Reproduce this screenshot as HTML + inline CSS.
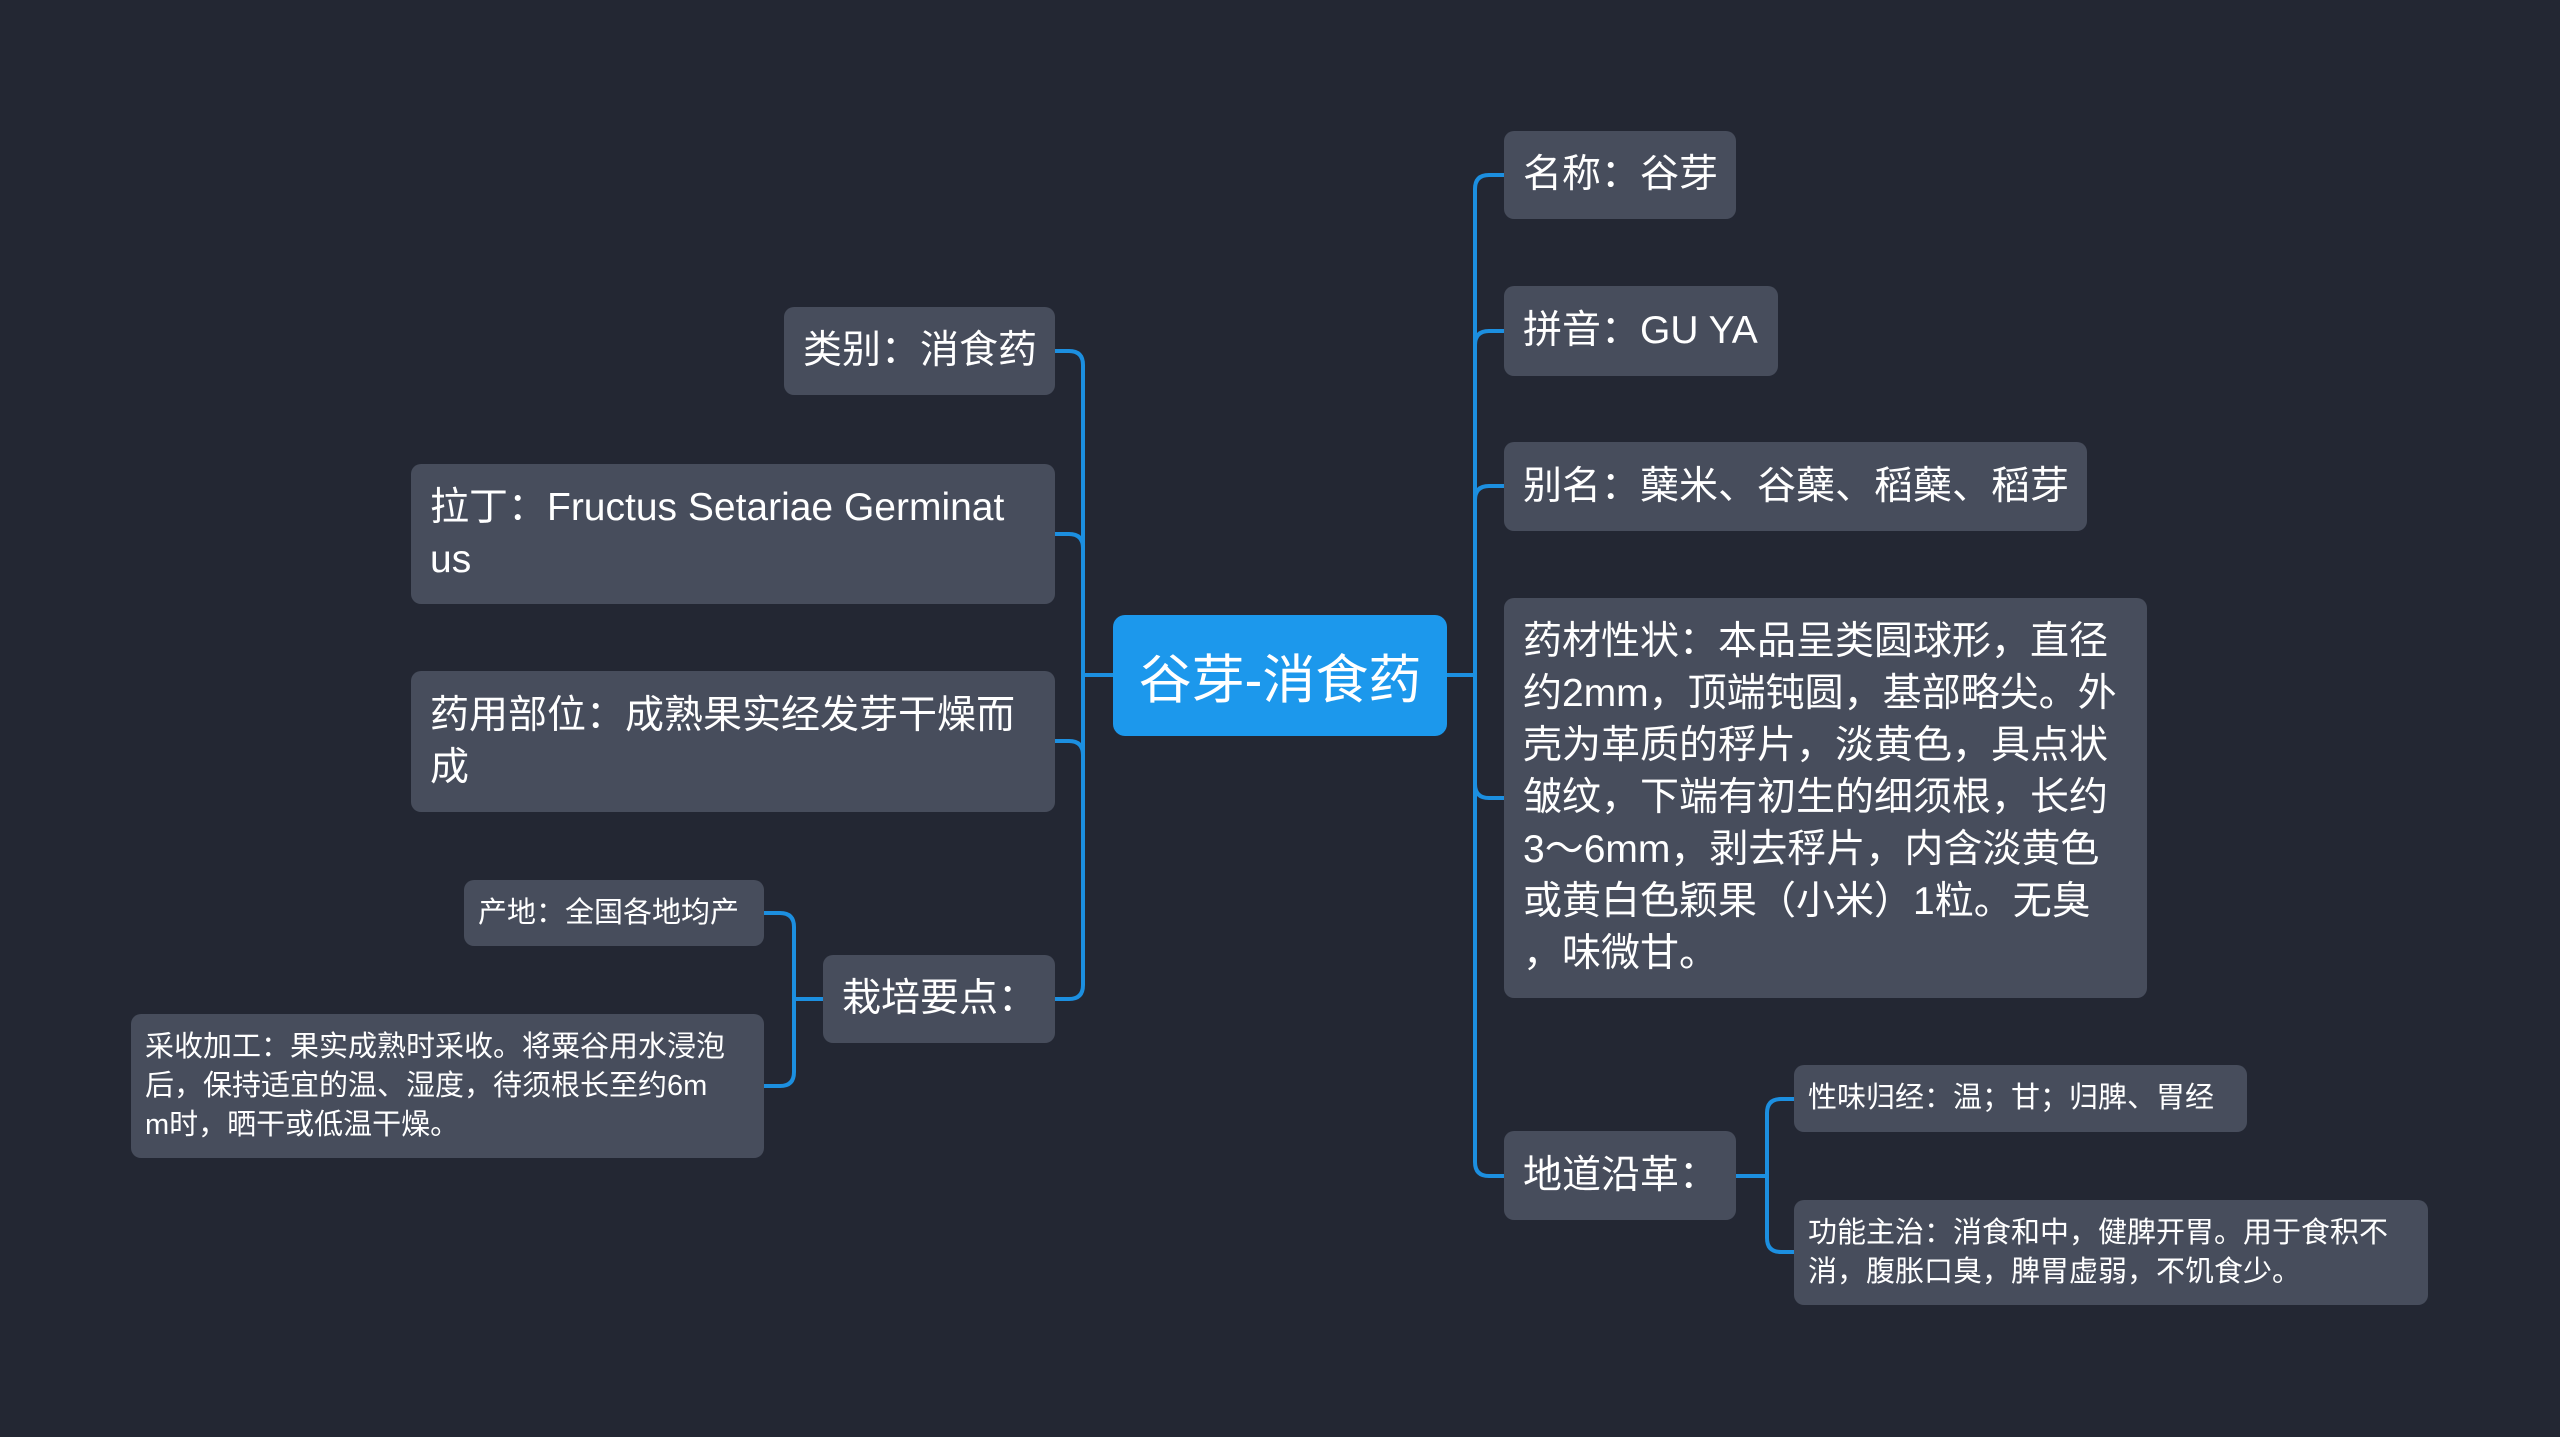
<!DOCTYPE html>
<html><head><meta charset="utf-8"><style>
html,body{margin:0;padding:0;}
body{width:2560px;height:1437px;background:#232733;position:relative;overflow:hidden;font-family:"Liberation Sans","Noto Sans CJK SC",sans-serif;color:#fff;}
.n{position:absolute;background:#474d5c;border-radius:10px;box-sizing:border-box;display:flex;align-items:center;white-space:nowrap;font-size:39px;line-height:52px;padding-left:19px;}
.s{font-size:29px;line-height:39px;padding-left:14px;}
.c{position:absolute;left:1113px;top:615px;width:334px;height:121px;background:#1c98ec;border-radius:12px;display:flex;align-items:center;justify-content:center;font-size:53px;color:#fff;}
svg{position:absolute;left:0;top:0;}
</style></head><body>
<svg width="2560" height="1437" fill="none" stroke="#1c8fe0" stroke-width="4">
<!-- left main -->
<path d="M1113 675 H1083"/>
<path d="M1055 351 H1069 Q1083 351 1083 365 V985 Q1083 999 1069 999 H1055"/>
<path d="M1055 534 H1069 Q1083 534 1083 548"/>
<path d="M1055 741 H1069 Q1083 741 1083 755"/>
<!-- left sub -->
<path d="M823 999 H794"/>
<path d="M764 913 H780 Q794 913 794 927 V1072 Q794 1086 780 1086 H764"/>
<!-- right main -->
<path d="M1447 675 H1475"/>
<path d="M1504 175 H1489 Q1475 175 1475 189 V1162 Q1475 1176 1489 1176 H1504"/>
<path d="M1504 331 H1489 Q1475 331 1475 345"/>
<path d="M1504 486 H1489 Q1475 486 1475 500"/>
<path d="M1504 798 H1489 Q1475 798 1475 784"/>
<!-- right sub -->
<path d="M1736 1176 H1767"/>
<path d="M1794 1099 H1781 Q1767 1099 1767 1113 V1238 Q1767 1252 1781 1252 H1794"/>
</svg>
<div class="c">谷芽-消食药</div>
<div class="n" style="left:1504px;top:131px;width:232px;height:88px;">名称：谷芽</div>
<div class="n" style="left:1504px;top:286px;width:274px;height:90px;">拼音：GU YA</div>
<div class="n" style="left:1504px;top:442px;width:583px;height:89px;">别名：蘖米、谷蘖、稻蘖、稻芽</div>
<div class="n" style="left:1504px;top:598px;width:643px;height:400px;">药材性状：本品呈类圆球形，直径<br>约2mm，顶端钝圆，基部略尖。外<br>壳为革质的稃片，淡黄色，具点状<br>皱纹，下端有初生的细须根，长约<br>3～6mm，剥去稃片，内含淡黄色<br>或黄白色颖果（小米）1粒。无臭<br>，味微甘。</div>
<div class="n" style="left:1504px;top:1131px;width:232px;height:89px;">地道沿革：</div>
<div class="n s" style="left:1794px;top:1065px;width:453px;height:67px;">性味归经：温；甘；归脾、胃经</div>
<div class="n s" style="left:1794px;top:1200px;width:634px;height:105px;">功能主治：消食和中，健脾开胃。用于食积不<br>消，腹胀口臭，脾胃虚弱，不饥食少。</div>
<div class="n" style="left:784px;top:307px;width:271px;height:88px;">类别：消食药</div>
<div class="n" style="left:411px;top:464px;width:644px;height:140px;">拉丁：Fructus Setariae Germinat<br>us</div>
<div class="n" style="left:411px;top:671px;width:644px;height:141px;">药用部位：成熟果实经发芽干燥而<br>成</div>
<div class="n" style="left:823px;top:955px;width:232px;height:88px;">栽培要点：</div>
<div class="n s" style="left:464px;top:880px;width:300px;height:66px;">产地：全国各地均产</div>
<div class="n s" style="left:131px;top:1014px;width:633px;height:144px;">采收加工：果实成熟时采收。将粟谷用水浸泡<br>后，保持适宜的温、湿度，待须根长至约6m<br>m时，晒干或低温干燥。</div>
</body></html>
